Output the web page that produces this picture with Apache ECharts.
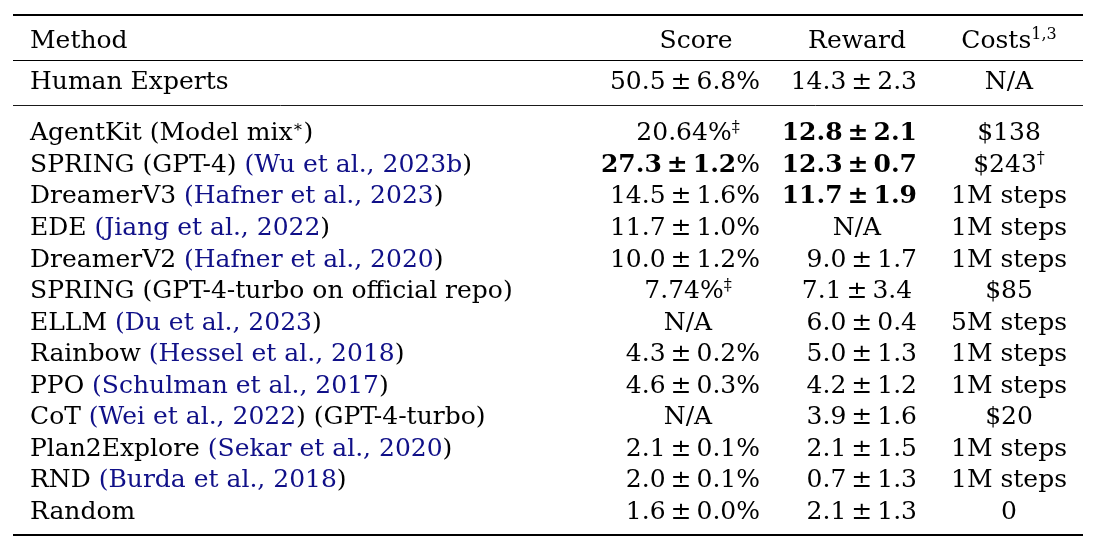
<!DOCTYPE html>
<html><head><meta charset="utf-8">
<script src="https://cdn.jsdelivr.net/npm/echarts@6/dist/echarts.min.js"></script>
<style>html,body{margin:0;padding:0;background:#fff}#c{width:1097px;height:545px}</style>
</head><body><div id="c"></div>
<script>
// ---------------- data (markup: **bold**, ^sup^, [citation]) ----------------
const headers = ['Method', 'Score', 'Reward', 'Costs^1,3^'];
const humanRow = ['Human Experts', '50.5 ± 6.8%', '14.3 ± 2.3', 'N/A'];
const methods = [
  'AgentKit (Model mix^∗^)',
  'SPRING (GPT-4) [Wu et al., 2023b]',
  'DreamerV3 [Hafner et al., 2023]',
  'EDE [Jiang et al., 2022]',
  'DreamerV2 [Hafner et al., 2020]',
  'SPRING (GPT-4-turbo on official repo)',
  'ELLM [Du et al., 2023]',
  'Rainbow [Hessel et al., 2018]',
  'PPO [Schulman et al., 2017]',
  'CoT [Wei et al., 2022] (GPT-4-turbo)',
  'Plan2Explore [Sekar et al., 2020]',
  'RND [Burda et al., 2018]',
  'Random'
];
const scores = ['20.64%^‡^', '**27.3 ± 1.2**%', '14.5 ± 1.6%', '11.7 ± 1.0%', '10.0 ± 1.2%',
  '7.74%^‡^', 'N/A', '4.3 ± 0.2%', '4.6 ± 0.3%', 'N/A', '2.1 ± 0.1%', '2.0 ± 0.1%', '1.6 ± 0.0%'];
const rewards = ['**12.8 ± 2.1**', '**12.3 ± 0.7**', '**11.7 ± 1.9**', 'N/A', '9.0 ± 1.7',
  '7.1 ± 3.4', '6.0 ± 0.4', '5.0 ± 1.3', '4.2 ± 1.2', '3.9 ± 1.6', '2.1 ± 1.5', '0.7 ± 1.3', '2.1 ± 1.3'];
const costs = ['$138', '$243^†^', '1M steps', '1M steps', '1M steps', '$85', '5M steps',
  '1M steps', '1M steps', '$20', '1M steps', '1M steps', '0'];

// ---------------- layout / style ----------------
const FONT = 'DejaVu Serif';
const FS = 25;
const SUPFS = 16;
const CITE = '#101088';
const INK = '#000';
const colMethod = 30;
const colScore = { center: 688, right: 760, head: 696 };
const colReward = { center: 857, right: 917, head: 857 };
const colCosts = { center: 1009, head: 1009 };
const rewardCenteredRows = [5];

function toRich(s) {
  s = s.replace(/ ± /g, '\u2009±\u2009');
  const re = /\*\*(.+?)\*\*|\^(.+?)\^|\[(.+?)\]|([^*^\[]+)/g;
  let out = '', m;
  while ((m = re.exec(s)) !== null) {
    if (m[1] !== undefined) out += '{b|' + m[1] + '}';
    else if (m[2] !== undefined) out += '{s|' + m[2] + '}';
    else if (m[3] !== undefined) out += '{c|(' + m[3] + '}{n|)}';
    else out += '{n|' + m[4] + '}';
  }
  return out;
}
const base = { fontFamily: FONT, fontSize: FS, color: INK, lineHeight: 28,
  textBorderWidth: 0, textShadowBlur: 0, opacity: 1 };
const rich = {
  n: Object.assign({}, base),
  b: Object.assign({}, base, { fontWeight: 'bold' }),
  c: Object.assign({}, base, { color: CITE }),
  s: Object.assign({}, base, { fontSize: SUPFS, lineHeight: 17, verticalAlign: 'top' })
};

function cellSeries(name, gridIdx, points) {
  return {
    type: 'scatter', name, xAxisIndex: gridIdx, yAxisIndex: gridIdx,
    symbolSize: 0, itemStyle: { color: '#000', opacity: 1 }, silent: true,
    emphasis: { disabled: true },
    data: points.map(p => ({
      value: [p.x, p.row],
      label: { show: true, position: [0, 0], align: p.align, verticalAlign: 'middle',
               color: INK, textBorderWidth: 0, opacity: 1,
               formatter: toRich(p.text), rich }
    }))
  };
}
const hasPm = t => t.indexOf('±') >= 0;

const headRows = ['header', 'human'];
const bodyRows = methods.map((_, i) => 'r' + i);

const headPoints = [
  { x: colMethod, row: 'header', align: 'left', text: headers[0] },
  { x: colScore.head, row: 'header', align: 'center', text: headers[1] },
  { x: colReward.head, row: 'header', align: 'center', text: headers[2] },
  { x: colCosts.head, row: 'header', align: 'center', text: headers[3] },
  { x: colMethod, row: 'human', align: 'left', text: humanRow[0] },
  { x: colScore.right, row: 'human', align: 'right', text: humanRow[1] },
  { x: colReward.right, row: 'human', align: 'right', text: humanRow[2] },
  { x: colCosts.center, row: 'human', align: 'center', text: humanRow[3] }
];
const bodyPoints = [];
methods.forEach((m, i) => {
  const r = bodyRows[i];
  bodyPoints.push({ x: colMethod, row: r, align: 'left', text: m });
  bodyPoints.push(hasPm(scores[i])
    ? { x: colScore.right, row: r, align: 'right', text: scores[i] }
    : { x: colScore.center, row: r, align: 'center', text: scores[i] });
  bodyPoints.push(hasPm(rewards[i]) && rewardCenteredRows.indexOf(i) < 0
    ? { x: colReward.right, row: r, align: 'right', text: rewards[i] }
    : { x: colReward.center, row: r, align: 'center', text: rewards[i] });
  bodyPoints.push({ x: colCosts.center, row: r, align: 'center', text: costs[i] });
});

const hiddenX = i => ({ type: 'value', gridIndex: i, min: 0, max: 1097, show: false });
const hiddenY = (i, data) => ({ type: 'category', gridIndex: i, data, inverse: true, show: false });

const chart = echarts.init(document.getElementById('c'), null, { renderer: 'canvas' });
const rule = (y, w) => ({ type: 'line', silent: true,
  shape: { x1: 13, y1: y, x2: 1083, y2: y }, style: { stroke: '#000', lineWidth: w } });
chart.setOption({
  animation: false,
  backgroundColor: '#fff',
  grid: [
    { left: 0, right: 0, top: 20.5, height: 82 },
    { left: 0, right: 0, top: 118, height: 410.3 }
  ],
  xAxis: [hiddenX(0), hiddenX(1)],
  yAxis: [hiddenY(0, headRows), hiddenY(1, bodyRows)],
  series: [cellSeries('head', 0, headPoints), cellSeries('body', 1, bodyPoints)],
  graphic: [rule(15, 2), rule(60.5, 1.2), rule(105.5, 0.9), rule(535, 2)]
});
</script></body></html>
